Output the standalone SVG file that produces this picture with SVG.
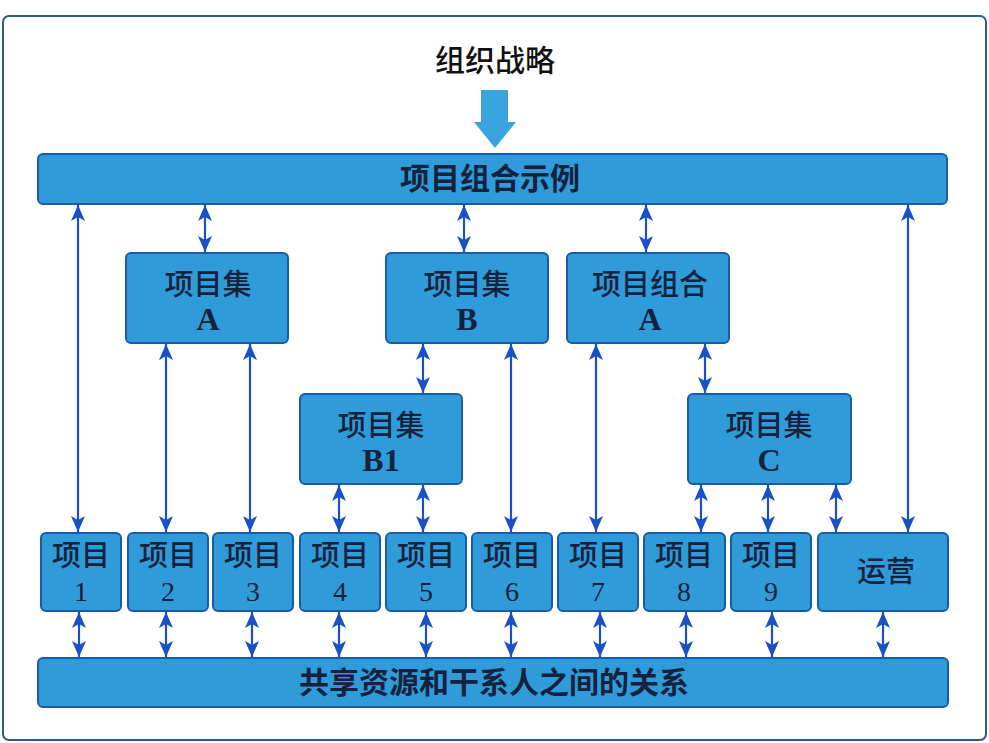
<svg xmlns="http://www.w3.org/2000/svg" width="989" height="743" viewBox="0 0 989 743">
<defs>
<style>
.box{fill:#2f9cd9;stroke:#1b5aa6;stroke-width:2}
.cjk{font-family:"Noto Sans CJK SC","Noto Sans",sans-serif;fill:#14223e;text-anchor:middle;font-weight:500}
.bar{font-weight:bold}
.lat{font-family:"Liberation Serif","Times New Roman",serif;fill:#14223e;text-anchor:middle}
.link{stroke:#1a4fc6;stroke-width:2.2;fill:none;marker-start:url(#ah);marker-end:url(#ah)}
</style>
<marker id="ah" markerUnits="userSpaceOnUse" viewBox="0 0 16 14" markerWidth="16" markerHeight="14" refX="16" refY="7" orient="auto-start-reverse">
<path d="M0,0 L16,7 L0,14 L4,7 Z" fill="#1a4fc6"/>
</marker>
</defs>
<rect x="0" y="0" width="989" height="743" fill="#ffffff"/>
<rect x="3" y="16" width="983" height="724" rx="6" fill="#ffffff" stroke="#2d5b88" stroke-width="2"/>

<g id="title">
<text class="cjk" x="495" y="71" font-size="30" style="fill:#111">组织战略</text>
<path d="M481,90 H508 V122 H516 L495,148 L474,122 H481 Z" fill="#3aa4de"/>
</g>

<g id="portfolio">
<rect class="box" x="38" y="154" width="909" height="50" rx="5"/>
<text class="cjk bar" x="490" y="189" font-size="30">项目组合示例</text>
</g>

<g id="programA">
<rect class="box" x="126" y="253" width="162" height="90" rx="5"/>
<text class="cjk" x="208" y="295" font-size="29">项目集</text>
<text class="lat" x="208" y="330" font-size="32" font-weight="bold">A</text>
</g>
<g id="programB">
<rect class="box" x="386" y="253" width="162" height="90" rx="5"/>
<text class="cjk" x="467" y="295" font-size="29">项目集</text>
<text class="lat" x="467" y="330" font-size="32" font-weight="bold">B</text>
</g>
<g id="portfolioA">
<rect class="box" x="567" y="253" width="162" height="90" rx="5"/>
<text class="cjk" x="650" y="295" font-size="29">项目组合</text>
<text class="lat" x="650" y="330" font-size="32" font-weight="bold">A</text>
</g>
<g id="programB1">
<rect class="box" x="300" y="394" width="162" height="90" rx="5"/>
<text class="cjk" x="381" y="436" font-size="29">项目集</text>
<text class="lat" x="381" y="471" font-size="32" font-weight="bold">B1</text>
</g>
<g id="programC">
<rect class="box" x="688" y="394" width="163" height="90" rx="5"/>
<text class="cjk" x="769" y="436" font-size="29">项目集</text>
<text class="lat" x="769" y="471" font-size="32" font-weight="bold">C</text>
</g>

<g id="project1"><rect class="box" x="41" y="533" width="80" height="78" rx="5"/><text class="cjk" x="81" y="566" font-size="29">项目</text><text class="lat" x="81" y="601" font-size="28">1</text></g>
<g id="project2"><rect class="box" x="128" y="533" width="80" height="78" rx="5"/><text class="cjk" x="168" y="566" font-size="29">项目</text><text class="lat" x="168" y="601" font-size="28">2</text></g>
<g id="project3"><rect class="box" x="213" y="533" width="80" height="78" rx="5"/><text class="cjk" x="253" y="566" font-size="29">项目</text><text class="lat" x="253" y="601" font-size="28">3</text></g>
<g id="project4"><rect class="box" x="300" y="533" width="80" height="78" rx="5"/><text class="cjk" x="340" y="566" font-size="29">项目</text><text class="lat" x="340" y="601" font-size="28">4</text></g>
<g id="project5"><rect class="box" x="386" y="533" width="80" height="78" rx="5"/><text class="cjk" x="426" y="566" font-size="29">项目</text><text class="lat" x="426" y="601" font-size="28">5</text></g>
<g id="project6"><rect class="box" x="472" y="533" width="80" height="78" rx="5"/><text class="cjk" x="512" y="566" font-size="29">项目</text><text class="lat" x="512" y="601" font-size="28">6</text></g>
<g id="project7"><rect class="box" x="558" y="533" width="80" height="78" rx="5"/><text class="cjk" x="598" y="566" font-size="29">项目</text><text class="lat" x="598" y="601" font-size="28">7</text></g>
<g id="project8"><rect class="box" x="644" y="533" width="81" height="78" rx="5"/><text class="cjk" x="684" y="566" font-size="29">项目</text><text class="lat" x="684" y="601" font-size="28">8</text></g>
<g id="project9"><rect class="box" x="731" y="533" width="80" height="78" rx="5"/><text class="cjk" x="771" y="566" font-size="29">项目</text><text class="lat" x="771" y="601" font-size="28">9</text></g>
<g id="operations"><rect class="box" x="818" y="533" width="130" height="78" rx="5"/><text class="cjk" x="886" y="582" font-size="29">运营</text></g>

<g id="shared">
<rect class="box" x="38" y="658" width="910" height="49" rx="5"/>
<text class="cjk bar" x="494" y="693" font-size="30">共享资源和干系人之间的关系</text>
</g>

<g id="connectors">
<line class="link" x1="78" y1="205" x2="78" y2="532"/>
<line class="link" x1="205" y1="205" x2="205" y2="252"/>
<line class="link" x1="464" y1="205" x2="464" y2="252"/>
<line class="link" x1="646" y1="205" x2="646" y2="252"/>
<line class="link" x1="908" y1="205" x2="908" y2="532"/>
<line class="link" x1="166" y1="344" x2="166" y2="532"/>
<line class="link" x1="250" y1="344" x2="250" y2="532"/>
<line class="link" x1="423" y1="344" x2="423" y2="393"/>
<line class="link" x1="511" y1="344" x2="511" y2="532"/>
<line class="link" x1="596" y1="344" x2="596" y2="532"/>
<line class="link" x1="705" y1="344" x2="705" y2="393"/>
<line class="link" x1="339" y1="485" x2="339" y2="532"/>
<line class="link" x1="423" y1="485" x2="423" y2="532"/>
<line class="link" x1="701" y1="485" x2="701" y2="532"/>
<line class="link" x1="768" y1="485" x2="768" y2="532"/>
<line class="link" x1="836" y1="485" x2="836" y2="532"/>
<line class="link" x1="79" y1="612" x2="79" y2="657"/>
<line class="link" x1="166" y1="612" x2="166" y2="657"/>
<line class="link" x1="252" y1="612" x2="252" y2="657"/>
<line class="link" x1="339" y1="612" x2="339" y2="657"/>
<line class="link" x1="426" y1="612" x2="426" y2="657"/>
<line class="link" x1="511" y1="612" x2="511" y2="657"/>
<line class="link" x1="600" y1="612" x2="600" y2="657"/>
<line class="link" x1="686" y1="612" x2="686" y2="657"/>
<line class="link" x1="772" y1="612" x2="772" y2="657"/>
<line class="link" x1="883" y1="612" x2="883" y2="657"/>
</g>
</svg>
